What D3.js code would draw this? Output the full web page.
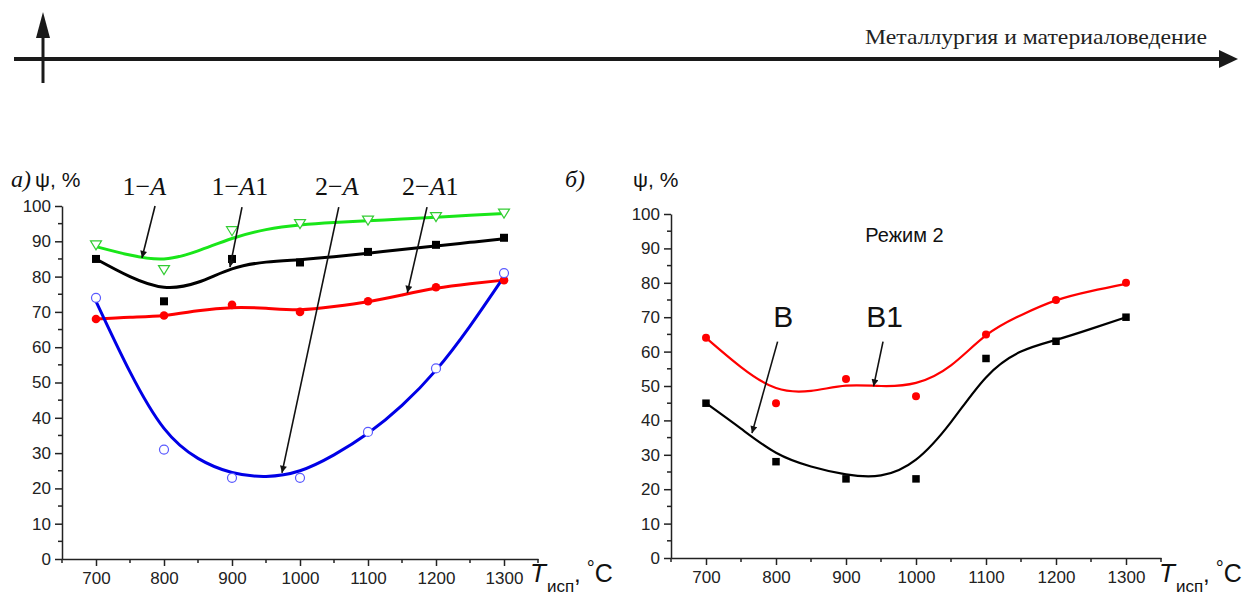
<!DOCTYPE html>
<html>
<head>
<meta charset="utf-8">
<script src="https://cdn.jsdelivr.net/npm/d3@7"></script>
<style>
  body { margin: 0; background: #fff; }
  svg { display: block; }
  .tick-label { font-family: Arial, "Liberation Sans", sans-serif; font-size: 17px; fill: #222; }
</style>
</head>
<body>
<svg width="1246" height="598"></svg>
<script>
// measured points
let temps = [700, 800, 900, 1000, 1100, 1200, 1300];
let psi1A = [89, 82, 93, 95, 96, 97, 98];
let psi1A1 = [85, 73, 85, 84, 87, 89, 91];
let psi2A = [74, 31, 23, 23, 36, 54, 81];
let psi2A1 = [68, 69, 72, 70, 73, 77, 79];
let psiB = [45, 28, 23, 23, 58, 63, 70];
let psiB1 = [64, 45, 52, 47, 65, 75, 80];

// fitted curves, every 50 degrees
let fitT = [700, 750, 800, 850, 900, 950, 1000, 1050, 1100, 1150, 1200, 1250, 1300];
let fit1A = [88.5, 86.1, 85, 87.3, 90.8, 93.3, 94.6, 95.3, 95.8, 96.3, 96.8, 97.4, 97.9];
let fit1A1 = [85, 80, 77, 78.4, 82.2, 84.1, 84.8, 85.6, 86.6, 87.7, 88.7, 89.7, 90.7];
let fit2A = [73, 53, 37, 28.5, 24.5, 23.4, 25, 29.5, 35.6, 43.5, 53.5, 66, 80];
let fit2A1 = [68, 68.5, 69, 70.3, 71.2, 71, 70.6, 71.5, 72.9, 74.8, 76.7, 78, 79];
let fitB = [45, 37.6, 30.6, 26.6, 24.3, 24, 28.6, 39.5, 52.5, 60, 63.4, 66.6, 70];
let fitB1 = [64, 55.5, 49.4, 48.6, 50.1, 50, 50.9, 56, 64.7, 70.6, 74.9, 77.6, 79.7];

let xTicks = [700, 800, 900, 1000, 1100, 1200, 1300];
let yTicks = [0, 10, 20, 30, 40, 50, 60, 70, 80, 90, 100];

let svg = d3.select('svg');

let defs = svg.append('defs');
defs.append('marker')
  .attr('id', 'arr')
  .attr('viewBox', '0 0 10 10')
  .attr('refX', 10)
  .attr('refY', 5)
  .attr('markerWidth', 10)
  .attr('markerHeight', 7)
  .attr('markerUnits', 'userSpaceOnUse')
  .attr('orient', 'auto')
  .append('path')
  .attr('d', 'M0,0 L10,5 L0,10 Z')
  .style('fill', '#111');

// header band
let head = svg.append('g');
head.append('line')
  .attr('x1', 14).attr('x2', 1222)
  .attr('y1', 59).attr('y2', 59)
  .style('stroke', '#1a1a1a').style('stroke-width', 4);
head.append('path')
  .attr('d', 'M1219,50 L1238,59 L1219,68 Z')
  .style('fill', '#1a1a1a');
head.append('line')
  .attr('x1', 43).attr('x2', 43)
  .attr('y1', 83).attr('y2', 34)
  .style('stroke', '#1a1a1a').style('stroke-width', 3);
head.append('path')
  .attr('d', 'M36,38 L43,12 L50,38 Z')
  .style('fill', '#1a1a1a');
head.append('text')
  .attr('x', 1207)
  .attr('y', 44)
  .attr('text-anchor', 'end')
  .attr('textLength', 342)
  .attr('lengthAdjust', 'spacingAndGlyphs')
  .style('font-family', '"Liberation Serif", "Times New Roman", serif')
  .style('font-size', '22px')
  .style('fill', '#222')
  .text('Металлургия и материаловедение');

function drawPanel(p) {
  let x = d3.scaleLinear().domain([650, 1350]).range(p.xr),
    y = d3.scaleLinear().domain([0, 100]).range(p.yr);
  let g = svg.append('g');

  let line = d3.line()
    .x(d => x(d[0]))
    .y(d => y(d[1]))
    .curve(d3.curveNatural);

  // curves
  p.series.forEach(s => {
    g.append('path')
      .attr('d', line(fitT.map((t, i) => [t, s.fit[i]])))
      .style('fill', 'none')
      .style('stroke', s.color)
      .style('stroke-width', p.lw);
  });

  // markers
  p.series.forEach(s => {
    let pts = temps.map((t, i) => [t, s.vals[i]]);
    let m = g.append('g');
    if (s.shape === 'square') {
      m.selectAll('rect').data(pts).enter().append('rect')
        .attr('x', d => x(d[0]) - s.size / 2)
        .attr('y', d => y(d[1]) - s.size / 2)
        .attr('width', s.size).attr('height', s.size)
        .style('fill', s.color);
    } else if (s.shape === 'dot') {
      m.selectAll('circle').data(pts).enter().append('circle')
        .attr('cx', d => x(d[0])).attr('cy', d => y(d[1]))
        .attr('r', s.size)
        .style('fill', s.color);
    } else if (s.shape === 'ring') {
      m.selectAll('circle').data(pts).enter().append('circle')
        .attr('cx', d => x(d[0])).attr('cy', d => y(d[1]))
        .attr('r', s.size)
        .style('fill', '#fff')
        .style('stroke', s.mcolor).style('stroke-width', 1.2);
    } else {
      m.selectAll('path').data(pts).enter().append('path')
        .attr('d', d => {
          let cx = x(d[0]), cy = y(d[1]);
          return 'M' + (cx - 5.5) + ',' + (cy - 4) + 'L' + (cx + 5.5) + ',' + (cy - 4) + 'L' + cx + ',' + (cy + 5) + 'Z';
        })
        .style('fill', '#fff')
        .style('stroke', s.mcolor).style('stroke-width', 1.2);
    }
  });

  // axes
  let xAxis = g.append('g')
    .attr('transform', 'translate(0,' + p.yr[0] + ')')
    .call(d3.axisBottom(x).tickValues(xTicks).tickSize(7).tickSizeOuter(0).tickPadding(6).tickFormat(d3.format('d')));
  xAxis.append('g').selectAll('line')
    .data(d3.range(650, 1351, 100)).enter().append('line')
    .attr('x1', d => x(d)).attr('x2', d => x(d))
    .attr('y1', 0).attr('y2', 4)
    .style('stroke', '#222').style('stroke-width', 1.5);

  let yAxis = g.append('g')
    .attr('transform', 'translate(' + p.xr[0] + ',0)')
    .call(d3.axisLeft(y).tickValues(yTicks).tickSize(7).tickSizeOuter(0).tickPadding(4));
  yAxis.append('g').selectAll('line')
    .data(d3.range(5, 100, 10)).enter().append('line')
    .attr('x1', 0).attr('x2', -4)
    .attr('y1', d => y(d)).attr('y2', d => y(d))
    .style('stroke', '#222').style('stroke-width', 1.5);

  g.selectAll('.domain, .tick line').style('stroke', '#222').style('stroke-width', 1.5);
  g.selectAll('.tick text').attr('class', 'tick-label').attr('font-size', null).attr('font-family', null);

  // axis titles
  let xl = g.append('text')
    .attr('x', p.xLabel[0])
    .attr('y', p.xLabel[1])
    .style('font-family', 'Arial, "Liberation Sans", sans-serif')
    .style('fill', '#111');
  xl.append('tspan').style('font-style', 'italic').style('font-size', '26px').text('T');
  xl.append('tspan').attr('dy', 10).attr('dx', 1).style('font-size', '17px').text('исп');
  xl.append('tspan').attr('dy', -10).style('font-size', '24px').text(',');
  xl.append('tspan').attr('dy', -7).attr('dx', 6).style('font-size', '20px').text('°');
  xl.append('tspan').attr('dy', 7).style('font-size', '25px').text('C');

  let tl = g.append('text')
    .attr('x', p.title[0])
    .attr('y', p.title[1])
    .style('fill', '#111');
  tl.append('tspan')
    .style('font-family', '"Liberation Serif", "Times New Roman", serif')
    .style('font-style', 'italic')
    .style('font-size', '24px')
    .text(p.titleTag);
  tl.append('tspan')
    .attr('x', p.psiX)
    .style('font-family', 'Arial, "Liberation Sans", sans-serif')
    .style('font-size', '21px')
    .text('ψ, %');

  // annotations
  p.notes.forEach(n => {
    let t = g.append('text')
      .attr('x', x(n.at[0]))
      .attr('y', y(n.at[1]))
      .style('fill', '#111');
    if (p.serifNotes) {
      t.style('font-family', '"Liberation Serif", "Times New Roman", serif').style('font-size', '26px');
      t.append('tspan').text(n.label[0] + '−');
      t.append('tspan').style('font-style', 'italic').text('A');
      t.append('tspan').text(n.label.slice(3));
    } else {
      t.style('font-family', 'Arial, "Liberation Sans", sans-serif').style('font-size', n.size + 'px')
        .text(n.label);
    }
    if (n.from) {
      g.append('line')
        .attr('x1', x(n.from[0])).attr('y1', y(n.from[1]))
        .attr('x2', x(n.to[0])).attr('y2', y(n.to[1]))
        .attr('marker-end', 'url(#arr)')
        .style('stroke', '#111')
        .style('stroke-width', 1.6);
    }
  });
}

drawPanel({
  xr: [62, 538],
  yr: [559, 206],
  lw: 3,
  titleTag: 'a)',
  title: [11, 187],
  psiX: 35,
  xLabel: [530, 582],
  serifNotes: true,
  series: [
    { vals: psi1A, fit: fit1A, color: '#19e619', mcolor: '#33cc33', shape: 'tri' },
    { vals: psi1A1, fit: fit1A1, color: '#000', shape: 'square', size: 8 },
    { vals: psi2A1, fit: fit2A1, color: '#f00', shape: 'dot', size: 4.3 },
    { vals: psi2A, fit: fit2A, color: '#0000e6', mcolor: '#5a5aff', shape: 'ring', size: 4.5 }
  ],
  notes: [
    { label: '1−A', at: [739, 103.1], from: [786.8, 100], to: [767.6, 85.3] },
    { label: '1−A1', at: [870, 103.1], from: [914.7, 99.7], to: [897, 82.7] },
    { label: '2−A', at: [1022, 103.1], from: [1057, 99.7], to: [973.5, 24.4] },
    { label: '2−A1', at: [1150, 103.1], from: [1186.8, 99.7], to: [1157.8, 75.4] }
  ]
});

drawPanel({
  xr: [671, 1161],
  yr: [558, 214],
  lw: 2.2,
  titleTag: 'б)',
  title: [565, 187],
  psiX: 633,
  xLabel: [1159, 582],
  serifNotes: false,
  series: [
    { vals: psiB, fit: fitB, color: '#000', shape: 'square', size: 7.5 },
    { vals: psiB1, fit: fitB1, color: '#f00', shape: 'dot', size: 4 }
  ],
  notes: [
    { label: 'Режим 2', at: [927.6, 91.9], size: 20 },
    { label: 'B', at: [796, 67.2], size: 30, from: [802.3, 62.9], to: [765.7, 36.3] },
    { label: 'B1', at: [929, 67.2], size: 30, from: [952.9, 62.9], to: [939.4, 49.9] }
  ]
});
</script>
</body>
</html>
